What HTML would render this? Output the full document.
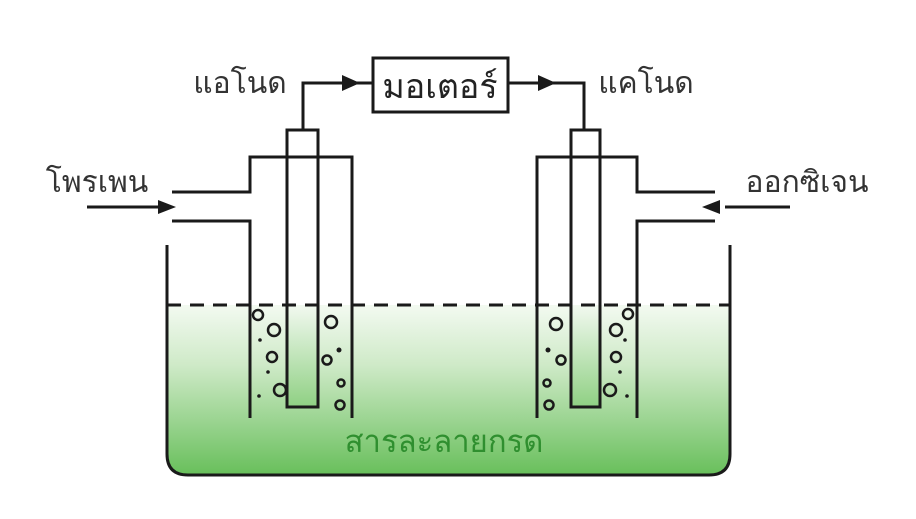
<!DOCTYPE html>
<html><head><meta charset="utf-8"><style>
html,body{margin:0;padding:0;background:#fff;}
svg{display:block;}
text{font-family:"Liberation Sans","Noto Sans CJK SC",sans-serif;}
</style></head><body>
<svg width="916" height="519" viewBox="0 0 916 519" xmlns="http://www.w3.org/2000/svg">
<defs>
<linearGradient id="liq" x1="0" y1="0" x2="0" y2="1">
<stop offset="0" stop-color="#f3faf1"/>
<stop offset="0.35" stop-color="#cfeac8"/>
<stop offset="1" stop-color="#68bf5b"/>
</linearGradient>
<linearGradient id="rod" x1="0" y1="0" x2="0" y2="1">
<stop offset="0" stop-color="#f2f9f0"/>
<stop offset="1" stop-color="#8fd083"/>
</linearGradient>
</defs>
<path d="M167 305 H730 V454 Q730 475 709 475 H188 Q167 475 167 454 Z" fill="url(#liq)"/>
<rect x="287" y="305" width="31" height="102" fill="url(#rod)"/>
<rect x="571" y="305" width="29" height="102" fill="url(#rod)"/>
<g stroke="#1a1a1a" stroke-width="3" fill="none">
<path d="M167 245 V454 Q167 475 188 475 H709 Q730 475 730 454 V245"/>
<line x1="167" y1="305" x2="730" y2="305" stroke-dasharray="14 9"/>
<path d="M172 192 H250 V157 H352 V418"/>
<path d="M172 221 H250 V418"/>
<rect x="287" y="130" width="31" height="277"/>
<path d="M715 192 H637 V157 H537 V418"/>
<path d="M715 221 H637 V418"/>
<rect x="571" y="130" width="29" height="277"/>
<path d="M303 130 V83 H373"/>
<path d="M508 83 H584 V130"/>
<rect x="373" y="58" width="135" height="54"/>
<line x1="87" y1="207" x2="162" y2="207"/>
<line x1="790" y1="207" x2="725" y2="207"/>
</g>
<g fill="#1a1a1a">
<polygon points="342,75 360,83 342,91"/>
<polygon points="538,75 556,83 538,91"/>
<polygon points="158,200 176,207 158,214"/>
<polygon points="720,200 702,207 720,214"/>
</g>
<g stroke="#1a1a1a" stroke-width="2.5" fill="none">
<circle cx="258" cy="315" r="5"/><circle cx="274" cy="330" r="6"/><circle cx="272" cy="357" r="5"/><circle cx="280" cy="390" r="6"/>
<circle cx="331" cy="322" r="6"/><circle cx="327" cy="360" r="4.5"/><circle cx="341" cy="383" r="3.5"/><circle cx="340" cy="405" r="4.5"/>
<circle cx="556" cy="324" r="6"/><circle cx="561" cy="360" r="4.5"/><circle cx="547" cy="383" r="3.5"/><circle cx="549" cy="405" r="4.5"/>
<circle cx="628" cy="314" r="5"/><circle cx="616" cy="330" r="6"/><circle cx="616" cy="357" r="5"/><circle cx="610" cy="390" r="6"/>
</g>
<g fill="#1a1a1a">
<circle cx="260" cy="340" r="1.8"/><circle cx="268" cy="372" r="1.8"/><circle cx="259" cy="396" r="1.8"/>
<circle cx="339" cy="350" r="2.5"/><circle cx="548" cy="350" r="2.5"/>
<circle cx="625" cy="340" r="1.8"/><circle cx="620" cy="372" r="1.8"/><circle cx="627" cy="396" r="1.8"/>
</g>
<text x="440" y="98" font-size="34" text-anchor="middle" fill="#222">มอเตอร์</text>
<text x="240" y="93" font-size="30" text-anchor="middle" fill="#333">แอโนด</text>
<text x="646" y="93" font-size="30" text-anchor="middle" fill="#333">แคโนด</text>
<text x="97" y="192" font-size="30" text-anchor="middle" fill="#333">โพรเพน</text>
<text x="807" y="192" font-size="30" text-anchor="middle" fill="#333">ออกซิเจน</text>
<text x="444" y="452" font-size="31" text-anchor="middle" fill="#2f8f2f">สารละลายกรด</text>
</svg>
</body></html>
